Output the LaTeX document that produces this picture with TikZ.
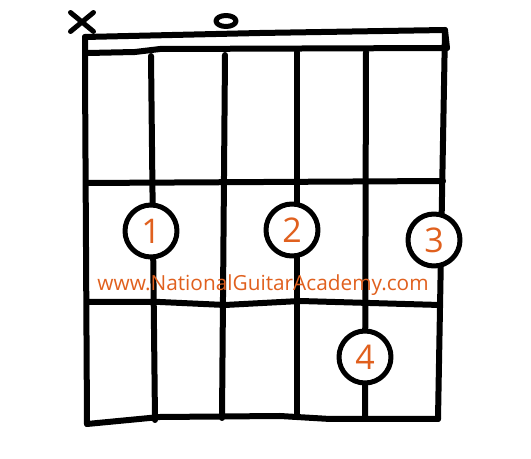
\documentclass[tikz,border=0pt]{standalone}
\usepackage{fontspec}
\setmainfont{Open Sans}
\usetikzlibrary{arrows,positioning,shapes.misc,shapes.geometric}
\definecolor{nga}{HTML}{E0601E}

\begin{document}
\begin{tikzpicture}[x=0.5pt,y=-0.5pt,line width=3pt,line cap=round,line join=round]
  \tikzstyle{finger}=[circle,draw,fill=white,line width=2.5pt,minimum size=26pt,inner sep=0pt,text=nga,font=\fontsize{17}{17}\selectfont]
  \tikzstyle{mute}=[cross out,draw,line width=2.5pt,minimum width=9pt,minimum height=7pt]
  \tikzstyle{open}=[ellipse,draw,line width=2.5pt,minimum width=10pt,minimum height=5.5pt,inner sep=0pt]
  \useasboundingbox (0,0) rectangle (531,459);

  % frame and nut
  \coordinate (NutL) at (85,37);
  \coordinate (NutR) at (445,30);
  \coordinate (NutBL) at (88,53);
  \coordinate (NutBR) at (447,48);
  \coordinate (BotL) at (87,424);
  \coordinate (BotR) at (438,419);
  \draw (NutL) -- (260,33) -- (NutR) -- (447,48);
  \draw (NutBL) -- (135,52) -- (160,49) -- (NutBR);
  \draw (NutL) -- (85,70) -- (BotL);
  \draw (NutR) -- (BotR);
  \draw (BotL) -- (160,417) -- (280,416) -- (330,419) -- (BotR);

  % frets
  \coordinate (F1L) at (86,183);
  \coordinate (F1R) at (443,181);
  \coordinate (F2L) at (87,302);
  \coordinate (F2R) at (440,305);
  \draw (F1L) -- (F1R);
  \draw (F2L) -- (160,302) -- (225,305) -- (300,301) -- (F2R);

  % strings
  \coordinate (S2T) at (151,56);
  \coordinate (S2B) at (155,420);
  \coordinate (S3T) at (225,55);
  \coordinate (S3B) at (222,418);
  \coordinate (S4T) at (297,52);
  \coordinate (S4B) at (297,417);
  \coordinate (S5T) at (366,52);
  \coordinate (S5B) at (365,419);
  \draw (S2T) -- (S2B);
  \draw (S3T) -- (S3B);
  \draw (S4T) -- (S4B);
  \draw (S5T) -- (S5B);

  % open and muted strings
  \node[mute] (X6) at (82,22) {};
  \node[open] (O4) at (226,21) {};

  % fingers
  \node[finger] (F1) at (151,231) {1};
  \node[finger] (F2) at (292,230) {2};
  \node[finger] (F3) at (434,240) {3};
  \node[finger] (F4) at (365,357) {4};

  \node[text=nga,font=\fontsize{10.4}{12}\selectfont,anchor=base] (url) at (263,291) {www.NationalGuitarAcademy.com};
\end{tikzpicture}
\end{document}
